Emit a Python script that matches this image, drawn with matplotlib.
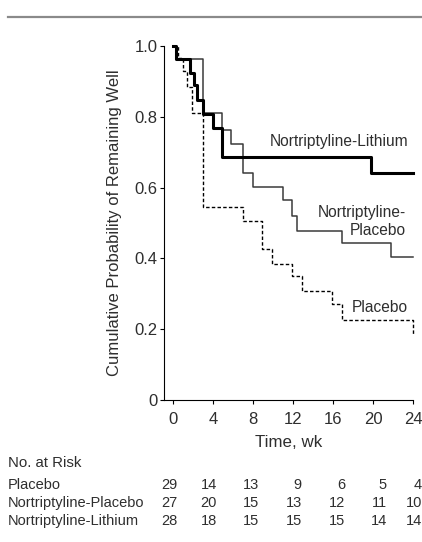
import matplotlib
matplotlib.use("Agg")
import matplotlib.pyplot as plt
from matplotlib.lines import Line2D

plt.rcParams['font.family'] = ['Liberation Sans', 'DejaVu Sans']
ink = '#2e2e2e'

# survival curves (step functions), weeks vs probability
lith_t = [0, 0.3, 1.7, 2.1, 2.4, 3.0, 4.0, 4.9, 19.8, 24]
lith_s = [1.0, 0.964, 0.925, 0.89, 0.847, 0.807, 0.768, 0.686, 0.64, 0.64]

nplac_t = [0, 0.3, 3.0, 4.9, 5.8, 7.0, 8.0, 11.0, 11.9, 12.4, 16.9, 21.8, 24]
nplac_s = [1.0, 0.963, 0.81, 0.763, 0.723, 0.64, 0.603, 0.564, 0.52, 0.478, 0.444, 0.403, 0.403]

plac_t = [0, 0.5, 0.95, 1.35, 1.85, 3.0, 7.0, 8.9, 9.9, 11.9, 12.9, 15.9, 16.9, 24]
plac_s = [1.0, 0.966, 0.93, 0.885, 0.81, 0.546, 0.506, 0.426, 0.384, 0.35, 0.307, 0.272, 0.226, 0.184]

# numbers at risk
weeks = [0, 4, 8, 12, 16, 20, 24]
risk_rows = ['Placebo', 'Nortriptyline-Placebo', 'Nortriptyline-Lithium']
risk_placebo = [29, 14, 13, 9, 6, 5, 4]
risk_nplac = [27, 20, 15, 13, 12, 11, 10]
risk_nlith = [28, 18, 15, 15, 15, 14, 14]

fig = plt.figure(figsize=(4.22, 5.42), dpi=100)
ax = fig.add_axes([164/422, 1-400/542, (413.3-164)/422, (400-46)/542])

ax.step(plac_t, plac_s, where='post', color='black', lw=1.0,
        linestyle=(0, (2.5, 1.6)), clip_on=False)
ax.step(nplac_t, nplac_s, where='post', color='#3a3a3a', lw=1.1, clip_on=False)
ax.step(lith_t, lith_s, where='post', color='black', lw=2.2, clip_on=False)

ax.set_xlim(-0.93, 24)
ax.set_ylim(0, 1.0)
ax.set_xticks(weeks)
ax.set_yticks([0, 0.2, 0.4, 0.6, 0.8, 1.0])
ax.set_yticklabels(['0', '0.2', '0.4', '0.6', '0.8', '1.0'])
for s in ['top', 'right']:
    ax.spines[s].set_visible(False)
for s in ['left', 'bottom']:
    ax.spines[s].set_linewidth(0.8)
ax.tick_params(direction='out', length=3, width=0.8, labelsize=12,
               labelcolor=ink)
ax.tick_params(axis='y', pad=1.5)
ax.tick_params(axis='x', pad=5.5)
ax.set_xlabel('Time, wk', fontsize=12.2, color=ink)
ax.set_ylabel('Cumulative Probability of Remaining Well', fontsize=12,
              color=ink)
ax.xaxis.set_label_coords(0.5, -0.1)
ax.yaxis.set_label_coords(-0.17, 0.5)

# curve labels
ax.text(23.5, 0.731, 'Nortriptyline-Lithium', ha='right', va='center',
        fontsize=11.2, color=ink)
ax.text(23.3, 0.504, 'Nortriptyline-\nPlacebo', ha='right', va='center',
        fontsize=11.2, color=ink, linespacing=1.3, multialignment='right')
ax.text(23.5, 0.26, 'Placebo', ha='right', va='center', fontsize=11.2, color=ink)

# risk table
fig.text(8/422, 1-463/542, 'No. at Risk', ha='left', va='center',
         fontsize=10.8, color=ink)
col_shift = [0.47, 0.37, 0.57, 0.87, 1.17, 1.37, 0.87]
row_y = [485, 503, 521]
for name, vals, y in zip(risk_rows, [risk_placebo, risk_nplac, risk_nlith], row_y):
    fig.text(8/422, 1-y/542, name, ha='left', va='center', fontsize=10.5, color=ink)
    for w, sh, v in zip(weeks, col_shift, vals):
        xf = ax.transData.transform((w + sh, 0))[0] / fig.bbox.width
        fig.text(xf, 1-y/542, str(v), ha='right', va='center',
                 fontsize=10.5, color=ink)

# rule under the (cropped) header
fig.add_artist(Line2D([8/422, 1.0], [1-17.3/542, 1-17.3/542],
                      color='#8a8a8a', lw=1.6))

fig.savefig('out.png', dpi=100)
